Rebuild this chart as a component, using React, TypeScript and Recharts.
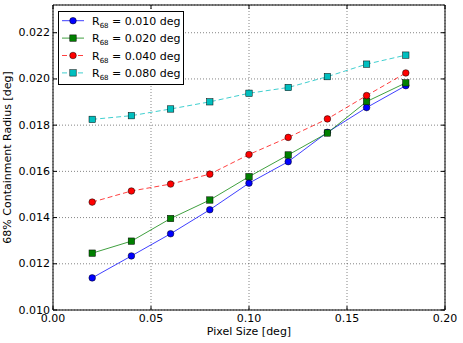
import React from "react";
import { LineChart, Line, XAxis, YAxis, CartesianGrid, ReferenceArea } from "recharts";

const pixelSizes = [0.02, 0.04, 0.06, 0.08, 0.1, 0.12, 0.14, 0.16, 0.18];
const r010 = [0.01139, 0.01234, 0.0133, 0.01434, 0.01549, 0.01642, 0.01769, 0.01876, 0.01971];
const r020 = [0.01246, 0.01298, 0.01396, 0.01476, 0.01577, 0.01671, 0.01766, 0.01902, 0.01983];
const r040 = [0.01467, 0.01515, 0.01545, 0.01588, 0.01673, 0.01747, 0.01827, 0.01928, 0.02026];
const r080 = [0.01825, 0.01841, 0.0187, 0.01901, 0.01938, 0.01963, 0.0201, 0.02064, 0.02103];

const xTicks = [0, 0.05, 0.1, 0.15, 0.2];
const yTicks = [0.01, 0.012, 0.014, 0.016, 0.018, 0.02, 0.022];

const series = [
  { key: "r010", label: "0.010", values: r010, color: "#0000ff", marker: "circle", dashed: false },
  { key: "r020", label: "0.020", values: r020, color: "#008000", marker: "square", dashed: false },
  { key: "r040", label: "0.040", values: r040, color: "#ff0000", marker: "circle", dashed: true },
  { key: "r080", label: "0.080", values: r080, color: "#00bfbf", marker: "square", dashed: true },
];

const data = pixelSizes.map((p, i) => {
  const row: any = { pixel: p };
  series.forEach((s) => (row[s.key] = s.values[i]));
  return row;
});

const FONT = "DejaVu Sans, sans-serif";
const W = 463;
const H = 343;
const PLOT = { left: 53, right: 445, top: 5, bottom: 310 };

function marker(shape: string, color: string, cx: number, cy: number, key?: any) {
  if (shape === "square") {
    return <rect key={key} x={cx - 3.2} y={cy - 3.2} width={6.4} height={6.4} fill={color} stroke="#000" strokeWidth={0.5} />;
  }
  return <circle key={key} cx={cx} cy={cy} r={3.3} fill={color} stroke="#000" strokeWidth={0.5} />;
}

function XTick(props: any) {
  const { x, payload } = props;
  return (
    <g>
      <line x1={x} x2={x} y1={PLOT.bottom} y2={PLOT.bottom - 4} stroke="#000" />
      <line x1={x} x2={x} y1={PLOT.top} y2={PLOT.top + 4} stroke="#000" />
      <text x={x} y={PLOT.bottom + 12} textAnchor="middle" fontSize={11} fontFamily={FONT} fill="#000">
        {payload.value.toFixed(2)}
      </text>
    </g>
  );
}

function YTick(props: any) {
  const { y, payload } = props;
  return (
    <g>
      <line x1={PLOT.left} x2={PLOT.left + 4} y1={y} y2={y} stroke="#000" />
      <line x1={PLOT.right} x2={PLOT.right - 4} y1={y} y2={y} stroke="#000" />
      <text x={PLOT.left - 3} y={y + 3.5} textAnchor="end" fontSize={11} fontFamily={FONT} fill="#000">
        {payload.value.toFixed(3)}
      </text>
    </g>
  );
}

function LegendBox() {
  const top = 20.7;
  const step = 17.4;
  return (
    <svg width={W} height={H} style={{ position: "absolute", left: 0, top: 0, pointerEvents: "none" }}>
      <rect x={58.5} y={11.5} width={125} height={73} fill="#fff" stroke="#000" strokeWidth={1} />
      {series.map((s, i) => {
        const y = top + i * step;
        return (
          <g key={s.key}>
            <line x1={62} x2={84} y1={y} y2={y} stroke={s.color} strokeOpacity={0.75} strokeDasharray={s.dashed ? "5 3" : undefined} />
            {marker(s.marker, s.color, 73, y)}
            <text x={92} y={y + 4} fontSize={11} fontFamily={FONT} fill="#000">
              R
              <tspan fontSize={7} dy={3}>68</tspan>
              <tspan dy={-3}> = {s.label} deg</tspan>
            </text>
          </g>
        );
      })}
    </svg>
  );
}

export default function App() {
  return (
    <div style={{ position: "absolute", left: 0, top: 0, width: W, height: H, background: "#fff" }}>
      <LineChart
        width={W}
        height={H}
        data={data}
        margin={{ top: PLOT.top, right: W - PLOT.right, bottom: 0, left: 0 }}
      >
        <CartesianGrid stroke="#333" strokeWidth={0.6} strokeDasharray="1 2" />
        <XAxis
          dataKey="pixel"
          type="number"
          domain={[0, 0.2]}
          ticks={xTicks}
          height={H - PLOT.bottom}
          axisLine={false}
          tickLine={false}
          tick={<XTick />}
          allowDataOverflow
          label={{
            content: () => (
              <text x={(PLOT.left + PLOT.right) / 2} y={335} textAnchor="middle" fontSize={11} fontFamily={FONT} fill="#000">
                Pixel Size [deg]
              </text>
            ),
          }}
        />
        <YAxis
          type="number"
          domain={[0.01, 0.0232]}
          ticks={yTicks}
          width={PLOT.left}
          axisLine={false}
          tickLine={false}
          tick={<YTick />}
          allowDataOverflow
          label={{
            content: () => (
              <text
                x={11}
                y={(PLOT.top + PLOT.bottom) / 2}
                transform={`rotate(-90 11 ${(PLOT.top + PLOT.bottom) / 2})`}
                textAnchor="middle"
                fontSize={11}
                fontFamily={FONT}
                fill="#000"
              >
                68% Containment Radius [deg]
              </text>
            ),
          }}
        />
        <ReferenceArea x1={0} x2={0.2} y1={0.01} y2={0.0232} fill="none" stroke="#000" strokeWidth={1} />
        {series.map((s) => (
          <Line
            key={s.key}
            dataKey={s.key}
            type="linear"
            stroke={s.color}
            strokeOpacity={0.75}
            strokeWidth={1}
            strokeDasharray={s.dashed ? "5 3" : undefined}
            isAnimationActive={false}
            dot={(p: any) => marker(s.marker, s.color, p.cx, p.cy, p.index)}
            activeDot={false}
          />
        ))}
      </LineChart>
      <LegendBox />
    </div>
  );
}
